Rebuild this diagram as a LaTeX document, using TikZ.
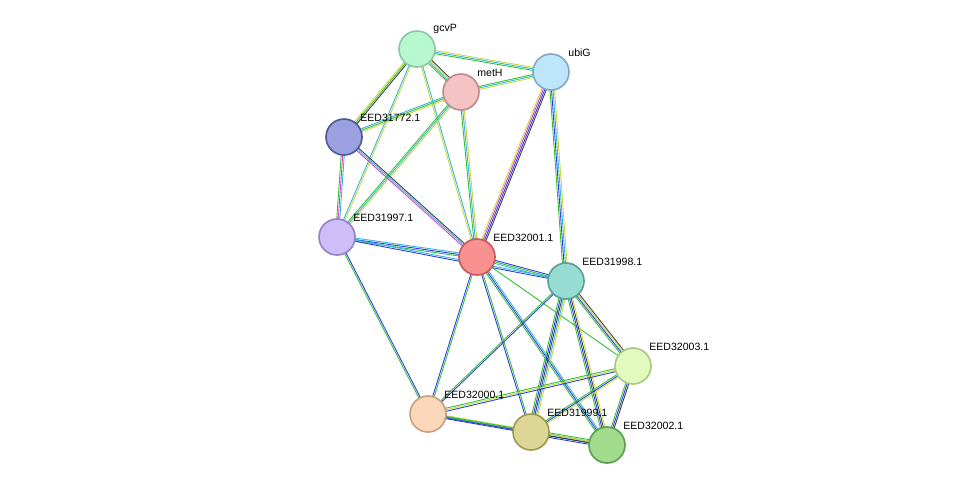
\documentclass[tikz,border=0pt]{standalone}
\usepackage{fontspec}
\setmainfont{Liberation Sans}
\usetikzlibrary{calc,backgrounds}
\definecolor{egreen}{RGB}{50,190,50}
\definecolor{eblue}{RGB}{40,60,230}
\definecolor{ecyan}{RGB}{50,180,220}
\definecolor{eyellow}{RGB}{200,215,60}
\definecolor{emag}{RGB}{220,60,200}
\definecolor{eblack}{RGB}{60,60,60}
\tikzset{
    prot/.style={draw, circle, line width=1.4pt, minimum size=1.08cm, inner sep=0pt},
    plabel/.style={anchor=south west, font=\fontsize{9}{10}\selectfont, inner sep=1pt}
}
% multi-coloured link between two proteins
\newcommand{\plink}[3]{%
  \foreach \c [count=\n] in {#3}{\xdef\nlines{\n}}
  \foreach \c [count=\i] in {#3}{
    \pgfmathsetmacro{\o}{(\i-1-(\nlines-1)/2)*1.3}
    \draw[\c, line width=0.75pt] ($(#1)!\o pt!90:(#2)$) -- ($(#2)!\o pt!-90:(#1)$);
  }
}
\begin{document}
\begin{tikzpicture}[x=0.03cm, y=-0.03cm]
\useasboundingbox (0,0) rectangle (975,491);
% proteins
\node[prot, fill={rgb,255:red,184;green,248;blue,206}, draw={rgb,255:red,140;green,200;blue,160}] (gcvP) at (417,49) {};
\node[prot, fill={rgb,255:red,190;green,230;blue,250}, draw={rgb,255:red,130;green,170;blue,200}] (ubiG) at (551,72) {};
\node[prot, fill={rgb,255:red,245;green,195;blue,195}, draw={rgb,255:red,190;green,140;blue,140}] (metH) at (461,92) {};
\node[prot, fill={rgb,255:red,155;green,160;blue,225}, draw={rgb,255:red,80;green,90;blue,150}] (e31772) at (344,137) {};
\node[prot, fill={rgb,255:red,205;green,190;blue,250}, draw={rgb,255:red,150;green,130;blue,200}] (e31997) at (337,237) {};
\node[prot, fill={rgb,255:red,250;green,145;blue,145}, draw={rgb,255:red,200;green,90;blue,90}] (e32001) at (477,257) {};
\node[prot, fill={rgb,255:red,150;green,220;blue,210}, draw={rgb,255:red,90;green,160;blue,150}] (e31998) at (566,281) {};
\node[prot, fill={rgb,255:red,225;green,250;blue,190}, draw={rgb,255:red,170;green,200;blue,130}] (e32003) at (633,366) {};
\node[prot, fill={rgb,255:red,250;green,215;blue,185}, draw={rgb,255:red,200;green,160;blue,130}] (e32000) at (428,414) {};
\node[prot, fill={rgb,255:red,220;green,215;blue,150}, draw={rgb,255:red,160;green,155;blue,80}] (e31999) at (531,432) {};
\node[prot, fill={rgb,255:red,160;green,220;blue,140}, draw={rgb,255:red,90;green,160;blue,80}] (e32002) at (607,445) {};
% labels
\node[plabel] (lgcvP) at (432,35) {gcvP};
\node[plabel] (lubiG) at (567,58) {ubiG};
\node[plabel] (lmetH) at (476,78) {metH};
\node[plabel] (l31772) at (359,123) {EED31772.1};
\node[plabel] (l31997) at (352,223) {EED31997.1};
\node[plabel] (l32001) at (492,243) {EED32001.1};
\node[plabel] (l31998) at (581,267) {EED31998.1};
\node[plabel] (l32003) at (648,352) {EED32003.1};
\node[plabel] (l32000) at (443,400) {EED32000.1};
\node[plabel] (l31999) at (546,418) {EED31999.1};
\node[plabel] (l32002) at (622,431) {EED32002.1};
% links
\begin{scope}[on background layer]
\plink{gcvP}{ubiG}{egreen,ecyan,eyellow}
\plink{gcvP}{metH}{egreen,ecyan,eyellow,eblack}
\plink{gcvP}{e31772}{eyellow,egreen,eblack}
\plink{gcvP}{e31997}{ecyan,eyellow}
\plink{gcvP}{e32001}{eyellow,ecyan}
\plink{metH}{ubiG}{eyellow,ecyan,egreen}
\plink{metH}{e31772}{ecyan,egreen,eyellow}
\plink{metH}{e31997}{egreen,ecyan,eyellow}
\plink{metH}{e32001}{egreen,ecyan,eyellow}
\plink{ubiG}{e32001}{eyellow,emag,eblue,eblack}
\plink{ubiG}{e31998}{egreen,eblue,ecyan,eyellow}
\plink{e31772}{e31997}{egreen,emag,ecyan}
\plink{e31772}{e32001}{emag,ecyan,eblack}
\plink{e31997}{e32001}{egreen,eblue,ecyan}
\plink{e31997}{e31998}{eblue,ecyan}
\plink{e31997}{e32000}{egreen,eblue}
\plink{e32001}{e31998}{ecyan,egreen,eblue}
\plink{e32001}{e32000}{eblue,egreen}
\plink{e32001}{e31999}{eblue,egreen}
\plink{e32001}{e32002}{egreen,eblue,ecyan}
\plink{e32001}{e32003}{egreen}
\plink{e31998}{e32003}{egreen,eblue,eyellow,eblack}
\plink{e31998}{e32000}{egreen,eblue}
\plink{e31998}{e31999}{egreen,eblue,eblack,ecyan,eyellow}
\plink{e31998}{e32002}{egreen,eblue,eblack,eyellow}
\plink{e32003}{e32000}{egreen,eyellow,eblue}
\plink{e32003}{e31999}{egreen,eblue,eyellow}
\plink{e32003}{e32002}{egreen,eblue,eblack}
\plink{e32000}{e31999}{eblue,egreen,eyellow}
\plink{e32000}{e32002}{eblue,egreen}
\plink{e31999}{e32002}{eblue,eblack,eyellow,egreen}
\end{scope}
\end{tikzpicture}
\end{document}
